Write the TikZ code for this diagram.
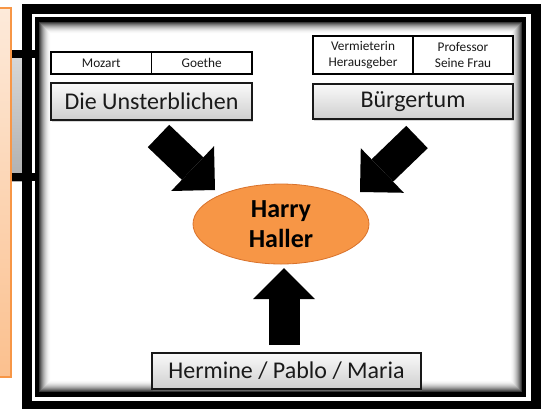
\documentclass[tikz,border=0pt]{standalone}
\usepackage{fontspec}
\setmainfont{Carlito}
\usetikzlibrary{arrows.meta,shapes.geometric,shadows}
\definecolor{hhorange}{HTML}{F79646}
\definecolor{hhborder}{HTML}{D9722B}
\definecolor{peachtop}{HTML}{FDEADA}
\definecolor{peachbot}{HTML}{FBC08E}
\definecolor{txt}{HTML}{1A1A1A}
\begin{document}
\begin{tikzpicture}[x=1pt,y=-1pt,
  cell/.style={draw=black, line width=1.2pt, fill=white, font=\fontsize{13.3}{16}\selectfont, text=txt, align=center, inner sep=0pt},
  gbox/.style={draw=black!90, line width=1.8pt, top color=gray!4, bottom color=gray!38, font=\fontsize{24}{28}\selectfont, text=txt, inner sep=0pt,
    drop shadow={opacity=0.3, shadow xshift=1pt, shadow yshift=-1.5pt}},
  hub/.style={ellipse, draw=hhborder, line width=0.8pt, fill=hhorange, inner sep=0pt, align=center, font=\bfseries\fontsize{26}{30}\selectfont, text=black},
  block/.style={line width=31pt, draw=black, -{Triangle[length=31pt 0 1, width=62pt 0 1, line width=0pt]}},
  ]
\useasboundingbox (0,0) rectangle (545,408);
\fill[white] (0,0) rectangle (545,408);
% left background pieces
\fill[top color=gray!30, bottom color=gray!62] (0,50) rectangle (24,181);
% frame
\draw[line width=10pt] (27,9) rectangle (536,406);
\draw[line width=4.5pt] (37,19.5) rectangle (524,394.5);
\foreach \i in {0,...,11}{
  \pgfmathsetmacro\shd{78*(1-\i/12)^2}
  \draw[line width=1.05pt, draw=black!\shd] (39.25+\i+0.5, 21.75+\i+0.5) rectangle (521.75-\i-0.5, 392.25-\i-0.5);
}
\fill[black] (11,50) rectangle (38,58);
\fill[black] (11,173) rectangle (38,181);
\draw[draw=hhorange, line width=1.5pt, top color=peachtop, bottom color=peachbot] (-5,8) rectangle (11,377);
% nodes
\node[cell, minimum width=100.5pt, minimum height=22pt] (mozart) at (101.25,63) {Mozart};
\node[cell, minimum width=100.5pt, minimum height=22pt] (goethe) at (201.75,63) {Goethe};
\node[gbox, minimum width=201pt, minimum height=37pt] (uns) at (151.5,101.5) {Die Unsterblichen};
\node[cell, minimum width=100pt, minimum height=38pt] (verm) at (363,55) {Vermieterin\\Herausgeber};
\node[cell, minimum width=100pt, minimum height=38pt] (prof) at (463,55) {Professor\\Seine Frau};
\node[gbox, minimum width=200pt, minimum height=35pt] (buerg) at (413,101.5) {Bürgertum};
\node[hub, minimum width=176pt, minimum height=80pt] (hh) at (281,224) {Harry\\Haller};
\node[gbox, minimum width=269pt, minimum height=36pt] (her) at (286.5,371) {Hermine / Pablo / Maria};
% arrows
\coordinate (la1) at (158.5,136); \coordinate (la2) at (215,190);
\coordinate (ra1) at (417,137);   \coordinate (ra2) at (360,192);
\coordinate (ua1) at (284,345);   \coordinate (ua2) at (284,268);
\draw[block] (la1) -- (la2);
\draw[block] (ra1) -- (ra2);
\draw[block] (ua1) -- (ua2);
\end{tikzpicture}
\end{document}
